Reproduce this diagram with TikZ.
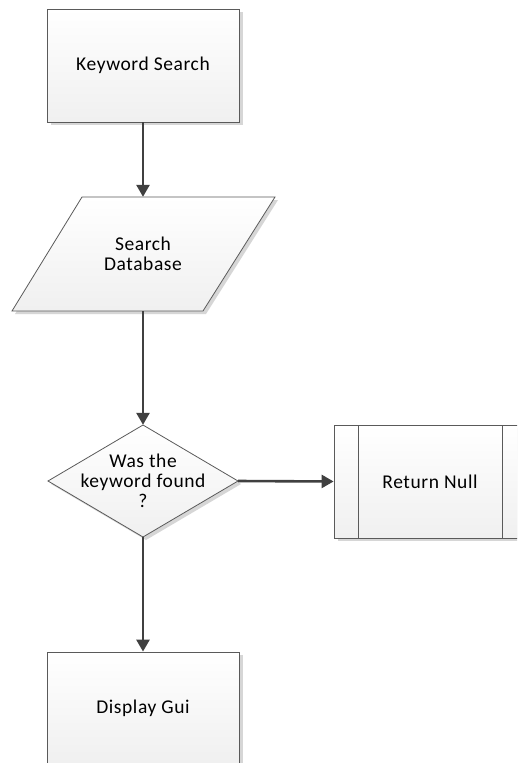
\documentclass[tikz,border=0pt]{standalone}
\usepackage{fontspec}
\setmainfont{Carlito}[LetterSpace=3]
\usetikzlibrary{arrows.meta,shadows}
\definecolor{edge}{HTML}{5A5A5A}
\definecolor{flow}{HTML}{404040}
\definecolor{shade}{HTML}{D6D6D6}
\begin{document}
\begin{tikzpicture}[x=1pt,y=-1pt,
  lbl/.style={font=\fontsize{19.5}{20}\selectfont, text=black, align=center},
  boxfill/.style={draw=edge, line width=0.8pt, top color=white, bottom color=black!6},
  shade copy/.style={fill=shade, draw=none},
  procbox/.style={rectangle, boxfill, inner sep=0pt, minimum width=192pt, minimum height=113pt, lbl,
    drop shadow={shadow xshift=4pt, shadow yshift=-3pt, fill=shade, opacity=1}},
  holder/.style={rectangle, draw=none, inner sep=0pt, lbl},
  flowline/.style={draw=flow, line width=2.6pt, -{Triangle[width=13pt,length=12pt]}}]
\clip (0,0) rectangle (517,763);
\fill[white] (0,0) rectangle (517,763);

% start box
\node[procbox] (kw) at (143,65.5) {Keyword Search};

% input / data: parallelogram
\fill[shade copy] (85,200) -- (278,200) -- (206,314) -- (15,314) -- cycle;
\path[boxfill] (82,197) -- (275,197) -- (203,311) -- (12,311) -- cycle;
\node[holder, minimum width=120pt, minimum height=114pt] (db) at (143,254) {Search\\Database};

% decision
\fill[shade copy] (146,428) -- (241,484) -- (146,540) -- (51,484) -- cycle;
\path[boxfill] (143,425) -- (238,481) -- (143,537) -- (48,481) -- cycle;
\node[holder, minimum width=190pt, minimum height=112pt] (dec) at (143,481) {Was the\\keyword found\\?};

% predefined process
\node[procbox] (rn) at (430,481.5) {Return Null};
\draw[edge, line width=0.8pt] (358,425) -- (358,538) (502,425) -- (502,538);

% output box
\node[procbox] (gui) at (143,708.5) {Display Gui};

% connectors
\draw[flowline] (kw.south) -- (db.north);
\draw[flowline] (db.south) -- (dec.north);
\draw[flowline] (dec.east) -- (rn.west);
\draw[flowline] (dec.south) -- (gui.north);
\end{tikzpicture}
\end{document}
